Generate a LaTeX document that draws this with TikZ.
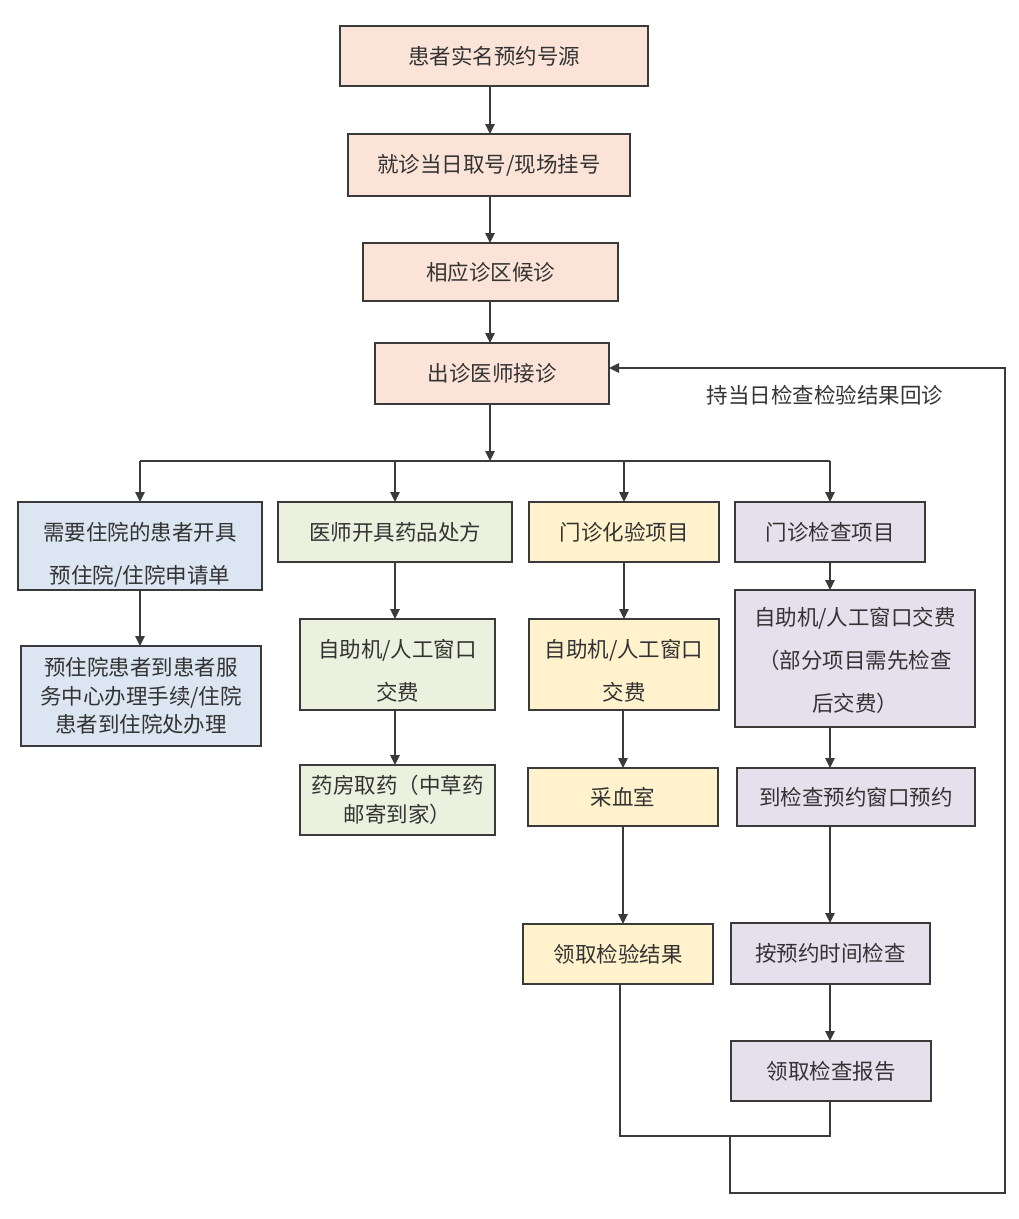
\documentclass[tikz,border=0pt]{standalone}
\usepackage{fontspec}
\setmainfont{Noto Sans CJK SC}
\usetikzlibrary{arrows.meta}
\definecolor{peach}{HTML}{FBE4D7}
\definecolor{bluef}{HTML}{DCE6F2}
\definecolor{greenf}{HTML}{EBF1DE}
\definecolor{yellowf}{HTML}{FFF2CC}
\definecolor{lavf}{HTML}{E5E0EC}
\definecolor{edge}{HTML}{3A3A3A}
\definecolor{txt}{HTML}{333333}
\newcommand{\topgap}[1]{\rule{0pt}{#1}}
\tikzset{
  box/.style={draw=edge, line width=1.1pt, inner sep=0pt, outer sep=0pt, align=center,
    text=txt, font=\fontsize{21.5}{43}\selectfont},
  tight/.style={font=\fontsize{21.5}{28.5}\selectfont},
  conn/.style={draw=edge, line width=1.1pt},
  arr/.style={conn, -{Triangle[length=10pt,width=9.5pt]}},
  lbl/.style={text=txt, font=\fontsize{21.5}{24}\selectfont, inner sep=0pt}
}
\begin{document}
\begin{tikzpicture}[x=1pt,y=-1pt]
\fill[white] (0,0) rectangle (1019,1219);
\useasboundingbox (0,0) rectangle (1019,1219);
% top column
\node[box, fill=peach, minimum width=308pt, minimum height=60pt] (n1) at (494,56) {患者实名预约号源};
\node[box, fill=peach, minimum width=282pt, minimum height=62pt] (n2) at (489,165) {就诊当日取号/现场挂号};
\node[box, fill=peach, minimum width=255pt, minimum height=58pt] (n3) at (490.5,272) {相应诊区候诊};
\node[box, fill=peach, minimum width=234pt, minimum height=61pt] (n4) at (492,373.5) {出诊医师接诊};
% row
\node[box, fill=bluef, minimum width=244pt, minimum height=88pt] (n5) at (140,546) {\topgap{35pt}需要住院的患者开具\\预住院/住院申请单};
\node[box, fill=greenf, minimum width=234pt, minimum height=60pt] (n6) at (395,532) {医师开具药品处方};
\node[box, fill=yellowf, minimum width=190pt, minimum height=60pt] (n7) at (624,532) {门诊化验项目};
\node[box, fill=lavf, minimum width=190pt, minimum height=60pt] (n8) at (830,532) {门诊检查项目};
% second row
\node[box, tight, fill=bluef, minimum width=240pt, minimum height=100pt] (n9) at (141,696) {预住院患者到患者服\\务中心办理手续/住院\\患者到住院处办理};
\node[box, fill=greenf, minimum width=195pt, minimum height=91pt] (n10) at (397.5,664.5) {\topgap{30pt}自助机/人工窗口\\交费};
\node[box, fill=yellowf, minimum width=190pt, minimum height=91pt] (n11) at (624,664.5) {\topgap{31pt}自助机/人工窗口\\交费};
\node[box, fill=lavf, minimum width=240pt, minimum height=137pt] (n12) at (855,658.5) {\topgap{22pt}自助机/人工窗口交费\\（部分项目需先检查\\后交费）};
% third row
\node[box, tight, fill=greenf, minimum width=195pt, minimum height=70pt] (n13) at (397.5,800) {药房取药（中草药\\邮寄到家）};
\node[box, fill=yellowf, minimum width=190pt, minimum height=58pt] (n14) at (623,797) {采血室};
\node[box, fill=lavf, minimum width=238pt, minimum height=58pt] (n15) at (856,797) {到检查预约窗口预约};
% fourth row
\node[box, fill=yellowf, minimum width=190pt, minimum height=60pt] (n16) at (618,954) {领取检验结果};
\node[box, fill=lavf, minimum width=199pt, minimum height=61pt] (n17) at (830.5,953.5) {按预约时间检查};
\node[box, fill=lavf, minimum width=200pt, minimum height=60pt] (n18) at (831,1071) {领取检查报告};
% label
\node[lbl] (lab) at (825,395) {持当日检查检验结果回诊};
% connectors
\coordinate (bj) at (490,461);
\coordinate (bl) at (140,461);
\coordinate (br) at (830,461);
\draw[arr] (n1.south -| bj) -- (n2.north -| bj);
\draw[arr] (n2.south -| bj) -- (n3.north -| bj);
\draw[arr] (n3.south -| bj) -- (n4.north -| bj);
\draw[arr] (n4.south -| bj) -- (bj);
\draw[conn] (bl) -- (br);
\draw[arr] (bl) -- (n5.north);
\draw[arr] (n6.north |- bj) -- (n6.north);
\draw[arr] (n7.north |- bj) -- (n7.north);
\draw[arr] (br) -- (n8.north);
\draw[arr] (n5) -- (n9.north -| n5);
\draw[arr] (n6) -- (n10.north -| n6);
\draw[arr] (n10.south -| n6) -- (n13.north -| n6);
\draw[arr] (n7) -- (n11);
\draw[arr] (n11.south -| n14) -- (n14);
\draw[arr] (n14) -- (n16.north -| n14);
\draw[arr] (n8.south) -- (n12.north -| n8);
\draw[arr] (n12.south -| n8) -- (n15.north -| n8);
\draw[arr] (n15.south -| n8) -- (n17.north -| n8);
\draw[arr] (n17.south -| n8) -- (n18.north -| n8);
\coordinate (m1) at (620,1136);
\coordinate (m2) at (830,1136);
\coordinate (mj) at (730,1136);
\coordinate (b1) at (730,1193);
\coordinate (b2) at (1005,1193);
\coordinate (b3) at (1005,368);
\draw[conn] (n16.south -| m1) -- (m1) -- (m2) -- (n18.south -| m2);
\draw[arr] (mj) -- (b1) -- (b2) -- (b3) -- (b3 -| n4.east);
\end{tikzpicture}
\end{document}
